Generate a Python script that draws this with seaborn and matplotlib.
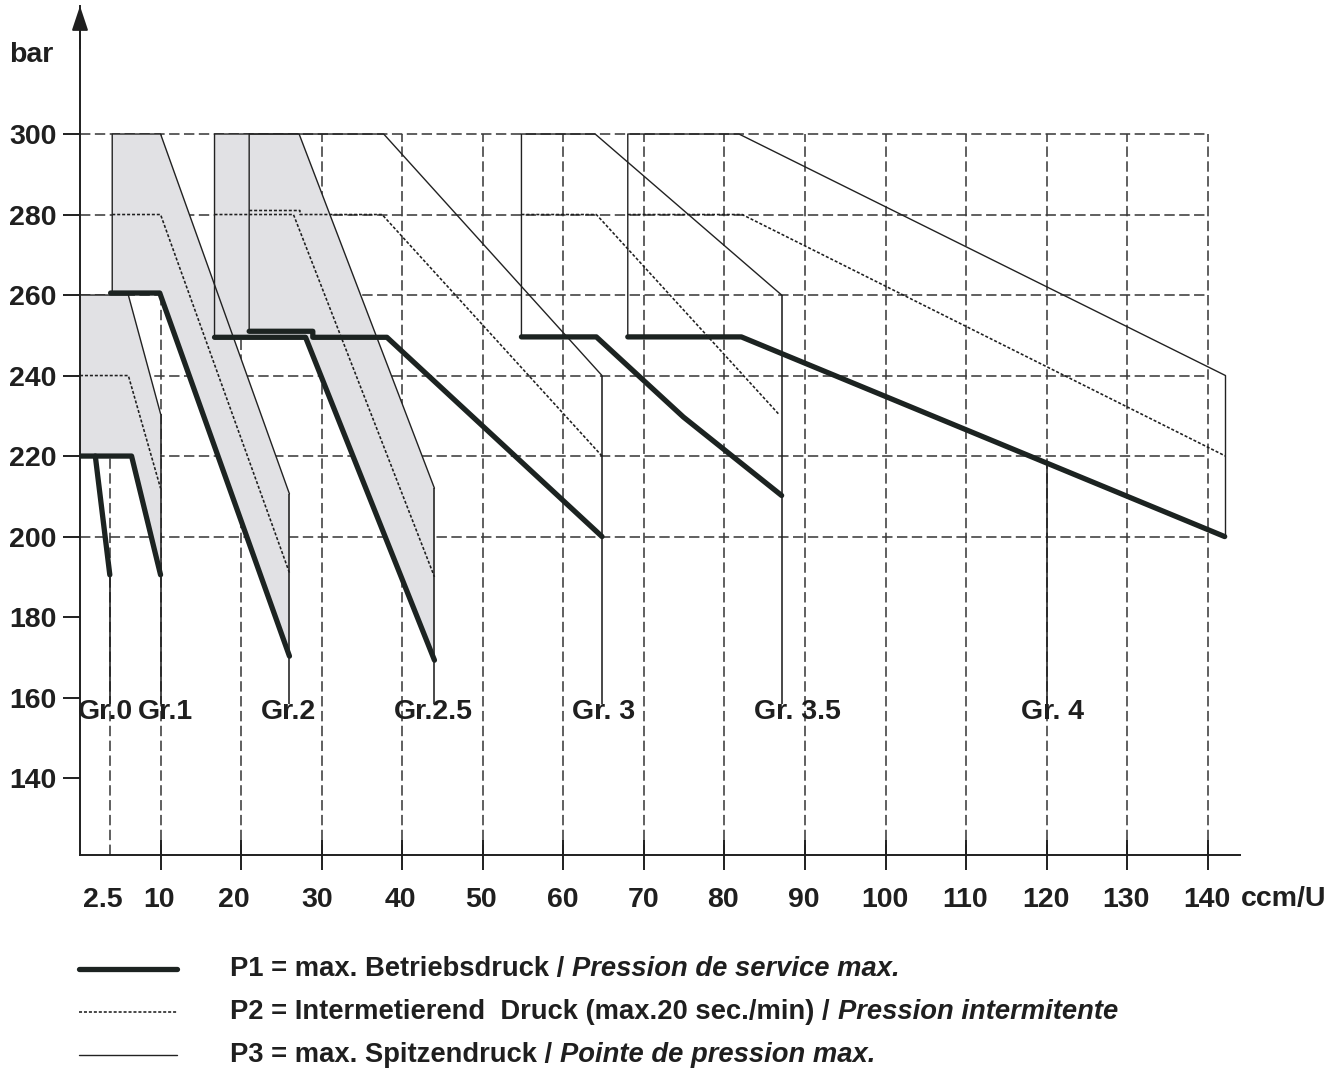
import numpy as np
import pandas as pd
import matplotlib
matplotlib.use("Agg")
import matplotlib.pyplot as plt
from matplotlib.lines import Line2D
import seaborn as sns

# ---------------- data ----------------
# x tick marks / labels (ccm/U)
x_tick_pos = [10, 20, 30, 40, 50, 60, 70, 80, 90, 100, 110, 120, 130, 140]
x_label_pos = [2.85, 9.8, 19.1, 29.4, 39.8, 49.8, 59.9, 69.9, 79.8, 89.8, 99.9, 109.9, 119.9, 129.9, 139.9]
x_labels = ["2.5", "10", "20", "30", "40", "50", "60", "70", "80", "90", "100", "110", "120", "130", "140"]
y_ticks = [140, 160, 180, 200, 220, 240, 260, 280, 300]

grid_v_x = [3.7, 10, 20, 30, 40, 50, 60, 70, 80, 90, 100, 110, 120, 130, 140]
grid_v_top = [220, 300, 300, 300, 300, 300, 300, 300, 300, 300, 300, 300, 300, 300, 300]
grid_h_y = [200, 220, 240, 260, 280, 300]

# Gr.0 group
g0_p1_x = [0, 6.4, 10];          g0_p1_y = [220, 220, 190.5]
g0_p1b_x = [1.9, 3.7];           g0_p1b_y = [220, 190.5]
g0_p2_x = [0, 6.0, 10];          g0_p2_y = [240, 240, 212]
g0_p3_x = [0, 6.0, 10];          g0_p3_y = [260, 260, 230.5]

# Gr.1 group
g1_p1_x = [3.8, 9.9, 26];        g1_p1_y = [260.5, 260.5, 170.3]
g1_p2_x = [4.0, 10, 26];         g1_p2_y = [280, 280, 191]
g1_p3_x = [4.0, 4.0, 10, 26];    g1_p3_y = [260.5, 300, 300, 210.6]

# Gr.2 group
g2_p1_x = [16.7, 28.0, 44];      g2_p1_y = [249.5, 249.5, 169.3]
g2_p2_x = [16.7, 26.5, 44];      g2_p2_y = [280, 280, 190]
g2_p3_x = [16.7, 16.7, 27.2, 44]; g2_p3_y = [249.5, 300, 300, 212]

# Gr.2.5 group
g25_p1_x = [21.0, 28.9, 28.9, 38.1, 64.8]; g25_p1_y = [251, 251, 249.5, 249.5, 200]
g25_p2_x = [21.0, 27.3, 27.3, 37.5, 64.8]; g25_p2_y = [281, 281, 280, 280, 220]
g25_p3_x = [21.0, 21.0, 37.7, 64.8];       g25_p3_y = [251, 300, 300, 240]

# Gr.3 group
g3_p1_x = [54.8, 64.1, 74.9, 87.1];    g3_p1_y = [249.6, 249.6, 229.7, 210.2]
g3_p2_x = [54.8, 64.1, 86.7];          g3_p2_y = [280, 280, 230.5]
g3_p3_x = [54.8, 54.8, 63.95, 87.1];   g3_p3_y = [249.6, 300, 300, 260]

# Gr.4 group
g4_p1_x = [68, 82.1, 142.1];           g4_p1_y = [249.6, 249.6, 200]
g4_p2_x = [68, 82.2, 142.2];           g4_p2_y = [280, 280, 220]
g4_p3_x = [68, 68, 81.8, 142.2, 142.2]; g4_p3_y = [249.6, 300, 300, 240, 200]

# leader lines down to the size labels
lead_x = [3.7, 10, 26, 44, 64.8, 87.1, 120]
lead_top = [190.5, 230.5, 210.6, 212, 240, 260, 218.3]
lead_bottom = 158.5

size_labels = ["Gr.0", "Gr.1", "Gr.2", "Gr.2.5", "Gr. 3", "Gr. 3.5", "Gr. 4"]
size_label_x = [3.2, 10.6, 25.9, 43.9, 65.0, 89.1, 120.7]
size_label_y = 156.4

legend_plain = ["P1 = max. Betriebsdruck /",
                "P2 = Intermetierend  Druck (max.20 sec./min) /",
                "P3 = max. Spitzendruck /"]
legend_italic = ["Pression de service max.",
                 "Pression intermitente",
                 "Pointe de pression max."]

# ---------------- style ----------------
sns.set_theme(style="white")
plt.rcParams["font.family"] = ["Liberation Sans", "DejaVu Sans"]
plt.rcParams["font.weight"] = "bold"
INK = "#1f1f1f"
GRID = "#3c3c3c"
FILL = "#e1e1e4"
FS = 20.5

W, H = 1330, 1072
fig = plt.figure(figsize=(W / 100, H / 100), dpi=100)
fig.patch.set_facecolor("white")
ax = fig.add_axes([80 / W, 1 - 855 / H, (1240 - 80) / W, (855 - 6) / H])
ax.set_xlim(0, 144)
ax.set_ylim(120.9, 331.8)
ax.set_facecolor("white")

# grid
grid_ls = (0, (6.5, 2.8))
ax.hlines(grid_h_y, 0, 140, colors=GRID, linewidth=1.15, linestyles=[grid_ls], zorder=0.5)
ax.vlines(grid_v_x, 120.9, grid_v_top, colors=GRID, linewidth=1.15, linestyles=[grid_ls], zorder=0.5)

# shaded envelopes (between P1 and P3)
ax.fill(g0_p3_x + g0_p1_x[::-1], g0_p3_y + g0_p1_y[::-1], color=FILL, lw=0, zorder=1)
ax.fill(g1_p3_x + g1_p1_x[::-1], g1_p3_y + g1_p1_y[::-1], color=FILL, lw=0, zorder=1)
ax.fill(g2_p3_x + g2_p1_x[::-1], g2_p3_y + g2_p1_y[::-1], color=FILL, lw=0, zorder=1)

p1_style = dict(color="#1c2321", linewidth=3.8, solid_capstyle="round", solid_joinstyle="round", zorder=4)
p2_style = dict(color="#1f1f1f", linewidth=1.15, linestyle=(0, (1.9, 1.2)), zorder=3)
p3_style = dict(color="#222222", linewidth=1.0, zorder=3)


def path(xs, ys, style):
    sns.lineplot(x=xs, y=ys, estimator=None, sort=False, ax=ax, **style)


for xs, ys in [(g0_p3_x, g0_p3_y), (g1_p3_x, g1_p3_y), (g2_p3_x, g2_p3_y),
               (g25_p3_x, g25_p3_y), (g3_p3_x, g3_p3_y), (g4_p3_x, g4_p3_y)]:
    path(xs, ys, p3_style)
for xs, ys in [(g0_p2_x, g0_p2_y), (g1_p2_x, g1_p2_y), (g2_p2_x, g2_p2_y),
               (g25_p2_x, g25_p2_y), (g3_p2_x, g3_p2_y), (g4_p2_x, g4_p2_y)]:
    path(xs, ys, p2_style)
for xs, ys in [(g0_p1_x, g0_p1_y), (g0_p1b_x, g0_p1b_y), (g1_p1_x, g1_p1_y), (g2_p1_x, g2_p1_y),
               (g25_p1_x, g25_p1_y), (g3_p1_x, g3_p1_y), (g4_p1_x, g4_p1_y)]:
    path(xs, ys, p1_style)

ax.vlines(lead_x, lead_bottom, lead_top, colors=INK, linewidth=1.15, zorder=3)

for lab, lx in zip(size_labels, size_label_x):
    ax.text(lx, size_label_y, lab, ha="center", va="center", fontsize=FS,
            fontweight="bold", color=INK, zorder=5)

# axes / spines
for s in ["top", "right"]:
    ax.spines[s].set_visible(False)
ax.spines["left"].set_color(INK)
ax.spines["left"].set_linewidth(1.4)
ax.spines["bottom"].set_color(INK)
ax.spines["bottom"].set_linewidth(1.4)
ax.annotate("", xy=(0, 1.0), xytext=(0, 0.95), xycoords="axes fraction",
            arrowprops=dict(arrowstyle="-|>,head_length=1.5,head_width=0.5",
                            mutation_scale=10, color=INK, lw=1.4,
                            shrinkA=0, shrinkB=0), annotation_clip=False)

ax.set_yticks(y_ticks)
ax.set_yticklabels([str(v) for v in y_ticks])
ax.tick_params(axis="y", left=True, direction="out", length=12, width=1.4,
               color=INK, pad=5, labelsize=FS, labelcolor=INK)
ax.set_xticks(x_label_pos)
ax.set_xticklabels(x_labels)
ax.tick_params(axis="x", which="major", bottom=True, length=0, pad=23,
               labelsize=FS, labelcolor=INK)
ax.set_xticks(x_tick_pos, minor=True)
ax.tick_params(axis="x", which="minor", bottom=True, direction="inout",
               length=22, width=1.4, color=INK)
for lbl in ax.get_xticklabels() + ax.get_yticklabels():
    lbl.set_fontweight("bold")
ax.set_xlabel("")
ax.set_ylabel("")

fig.text(31 / W, 1 - 55 / H, "bar", ha="center", va="center", fontsize=FS,
         fontweight="bold", color=INK)
fig.text(1284 / W, 1 - 899 / H, "ccm/U", ha="center", va="center", fontsize=FS,
         fontweight="bold", color=INK)

# legend
leg_y = [969, 1012, 1055]
LFS = 19.7
leg_styles = [dict(color="#1c2321", linewidth=3.8, solid_capstyle="round"),
              dict(color="#1f1f1f", linewidth=1.15, linestyle=(0, (1.9, 1.2))),
              dict(color="#222222", linewidth=1.0)]
for yy, st, t_plain, t_it in zip(leg_y, leg_styles, legend_plain, legend_italic):
    yf = 1 - yy / H
    fig.add_artist(Line2D([79 / W, 177 / W], [yf, yf], transform=fig.transFigure, **st))
    t1 = fig.text(230 / W, yf, t_plain, ha="left", va="center", fontsize=LFS,
                  fontweight="bold", color=INK)
    fig.add_artist(plt.Annotation(t_it, xy=(1, 0.5), xycoords=t1,
                                  xytext=(5.8, 0), textcoords="offset points",
                                  ha="left", va="center", fontsize=LFS,
                                  fontweight="bold", fontstyle="italic", color=INK))

fig.savefig("out.png", dpi=100, facecolor="white")
